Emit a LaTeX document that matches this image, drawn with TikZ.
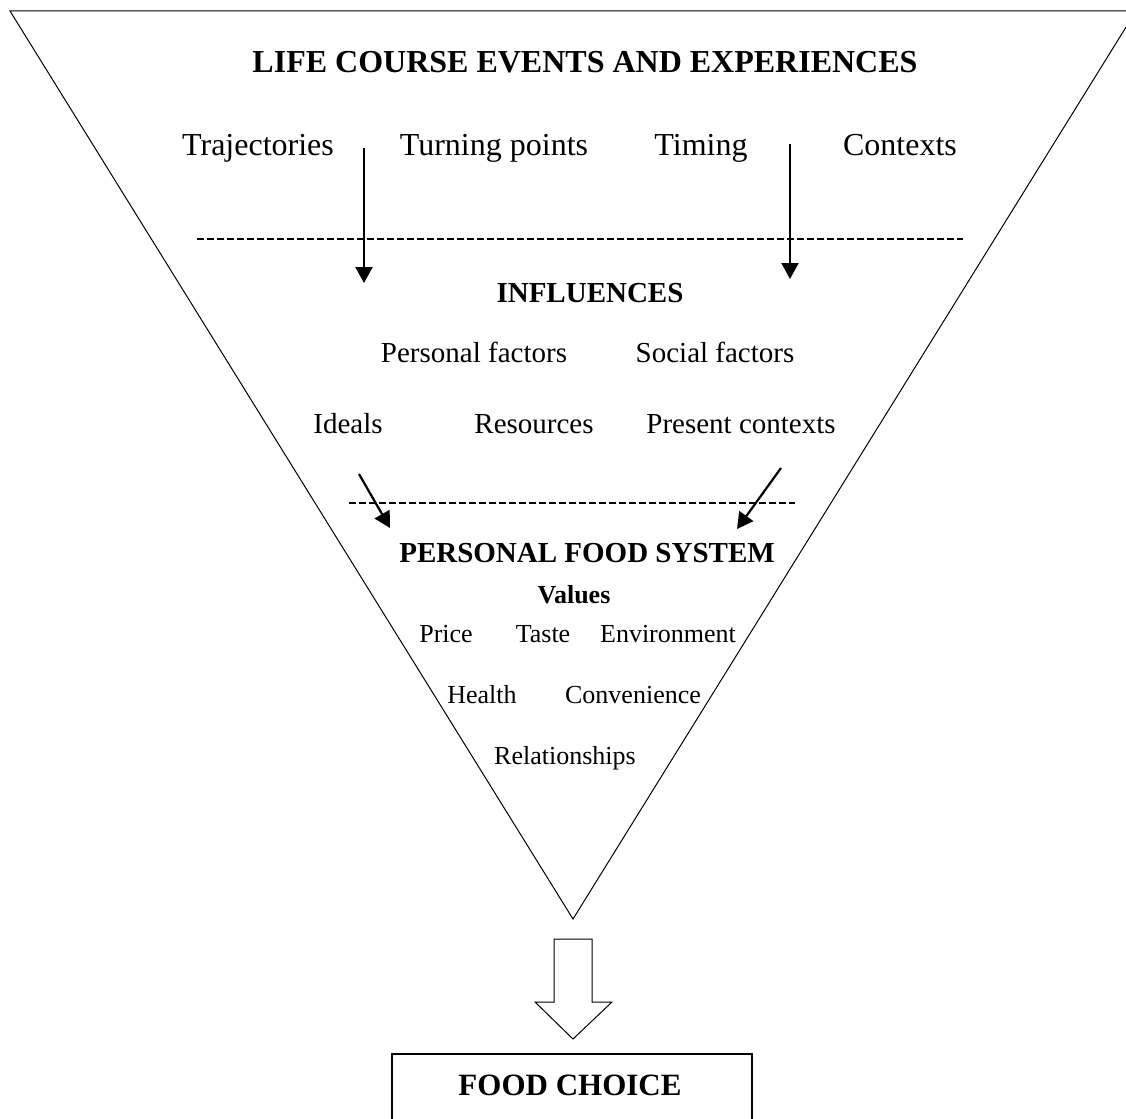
\documentclass[tikz,border=0pt]{standalone}
\usepackage{fontspec}
\setmainfont{Liberation Serif}
\usetikzlibrary{arrows.meta}

\begin{document}
\begin{tikzpicture}[x=1pt,y=-1pt,
    big/.style={inner sep=0pt,anchor=base,font=\fontsize{32}{38}\selectfont},
    mid/.style={inner sep=0pt,anchor=base,font=\fontsize{29}{35}\selectfont},
    small/.style={inner sep=0pt,anchor=base,font=\fontsize{26}{31}\selectfont},
    flow/.style={line width=2.2pt,-{Triangle[length=16pt,width=17pt]}},
    sepline/.style={line width=2.6pt,dash pattern=on 7pt off 3pt}]
      \clip (0,0) rectangle (1126,1118);
      % funnel
      \draw[line width=1pt] (10,11) -- (1136,11) -- (573,919) -- cycle;
      % life course
      \node[big,font=\fontsize{32}{38}\selectfont\bfseries] (life) at (585,73) {LIFE COURSE EVENTS AND EXPERIENCES};
      \node[big] (traj) at (258,156) {Trajectories};
      \node[big] (turn) at (494,156) {Turning points};
      \node[big] (timing) at (701,156) {Timing};
      \node[big] (ctx) at (900,156) {Contexts};
      \coordinate (la1) at (364,148);
      \coordinate (la2) at (364,283);
      \coordinate (ra1) at (790,144);
      \coordinate (ra2) at (790,279);
      \coordinate (sep1l) at (197,239);
      \coordinate (sep1r) at (963,239);
      \draw[sepline] (sep1l) -- (sep1r);
      \draw[flow] (la1) -- (la2);
      \draw[flow] (ra1) -- (ra2);
      % influences
      \node[mid,font=\fontsize{29}{35}\selectfont\bfseries] (infl) at (590,302) {INFLUENCES};
      \node[mid] (pers) at (474,362) {Personal factors};
      \node[mid] (soc) at (715,362) {Social factors};
      \node[mid] (ideals) at (348,433) {Ideals};
      \node[mid] (res) at (534,433) {Resources};
      \node[mid] (pres) at (741,433) {Present contexts};
      \coordinate (da1) at (359,474);
      \coordinate (da2) at (390,528);
      \coordinate (db1) at (781,468);
      \coordinate (db2) at (737,529);
      \coordinate (sep2l) at (349,503);
      \coordinate (sep2r) at (795,503);
      \draw[sepline] (sep2l) -- (sep2r);
      \draw[flow] (da1) -- (da2);
      \draw[flow] (db1) -- (db2);
      % personal food system
      \node[mid,font=\fontsize{29}{35}\selectfont\bfseries] (pfs) at (587,562) {PERSONAL FOOD SYSTEM};
      \node[small,font=\fontsize{26}{31}\selectfont\bfseries] (values) at (574,603) {Values};
      \node[small] (price) at (446,642) {Price};
      \node[small] (taste) at (543,642) {Taste};
      \node[small] (env) at (668,642) {Environment};
      \node[small] (health) at (482,703) {Health};
      \node[small] (conv) at (633,703) {Convenience};
      \node[small] (rel) at (565,764) {Relationships};
      % outcome
      \draw[line width=1pt] (554,939) -- (592,939) -- (592,1002) -- (612,1002) -- (573,1039)
        -- (535,1002) -- (554,1002) -- cycle;
      \draw[line width=1.3pt] (392,1054) rectangle (752,1140);
      \node[big,font=\fontsize{31}{37}\selectfont\bfseries] (choice) at (570,1095) {FOOD CHOICE};
    \end{tikzpicture}
\end{document}
